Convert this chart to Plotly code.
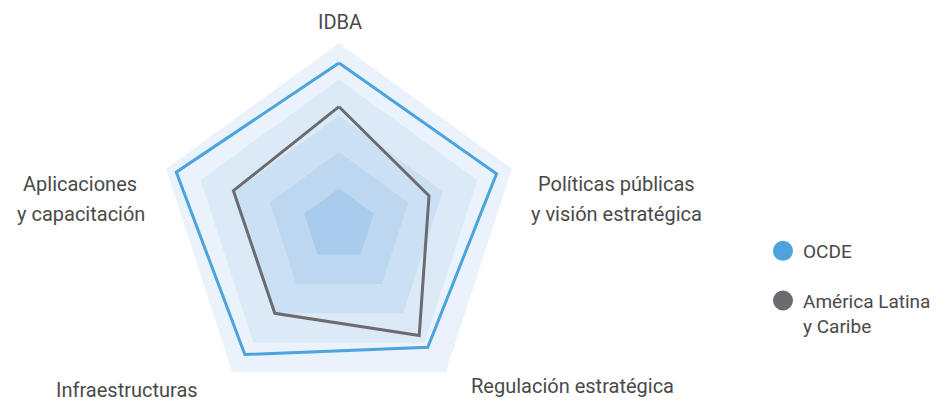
import plotly.graph_objects as go

# ---- data ----
categories = ["IDBA", "Políticas públicas y visión estratégica", "Regulación estratégica",
              "Infraestructuras", "Aplicaciones y capacitación"]
label_lines = [["IDBA"], ["Políticas públicas", "y visión estratégica"], ["Regulación estratégica"],
               ["Infraestructuras"], ["Aplicaciones", "y capacitación"]]
ocde = [89, 91, 83, 88, 94]
alc = [65, 52, 75, 60, 61]
series_names = ["OCDE", "América Latina<br>y Caribe"]
band_levels = [100, 80, 60, 40, 20]

# ---- styles ----
band_colors = ["#EAF3FB", "#DCEAF7", "#CBE0F3", "#BCD7EF", "#A9CBEC"]
blue = "#4DA3DD"
gray = "#6B6B70"
text_color = "#4A4A4A"
font_family = "Roboto, 'Noto Sans', sans-serif"

OFF = 8  # browser body margin
W, H = 944, 404

def fx(px):
    return (px - OFF) / W

def fy(py):
    return 1 - (py - OFF) / H

fig = go.Figure()
theta_closed = categories + [categories[0]]

for lvl, col in zip(band_levels, band_colors):
    fig.add_trace(go.Scatterpolar(
        r=[lvl] * (len(categories) + 1), theta=theta_closed,
        mode="lines", fill="toself", fillcolor=col,
        line=dict(width=0, color=col), showlegend=False, hoverinfo="skip"))

fig.add_trace(go.Scatterpolar(
    r=ocde + [ocde[0]], theta=theta_closed, mode="lines",
    line=dict(color=blue, width=3), showlegend=False, name="OCDE"))
fig.add_trace(go.Scatterpolar(
    r=alc + [alc[0]], theta=theta_closed, mode="lines",
    line=dict(color=gray, width=3), showlegend=False, name="América Latina y Caribe"))

for nm, col, grp in [(series_names[0], blue, "a"), (series_names[1], gray, "b")]:
    fig.add_trace(go.Scatterpolar(
        r=[None], theta=[categories[0]], mode="markers", name=nm,
        legendgroup=grp,
        marker=dict(color=col, size=16, symbol="circle", line=dict(color=col, width=4)),
        showlegend=True))

R = 182
cx, cy = 339, 225  # page pixels
fig.update_layout(
    width=W, height=H,
    margin=dict(l=0, r=0, t=0, b=0),
    paper_bgcolor="white",
    font=dict(family=font_family, color=text_color),
    polar=dict(
        domain=dict(x=[fx(cx - R), fx(cx + R)], y=[fy(cy + R), fy(cy - R)]),
        bgcolor="rgba(0,0,0,0)",
        gridshape="linear",
        radialaxis=dict(visible=False, range=[0, 100]),
        angularaxis=dict(rotation=90, direction="clockwise", showline=False,
                         showgrid=False, showticklabels=False, ticks=""),
    ),
    legend=dict(x=fx(763), y=fy(232), xanchor="left", yanchor="top",
                font=dict(size=19, color=text_color, family=font_family),
                traceorder="grouped", tracegroupgap=22, valign="top",
                bgcolor="rgba(0,0,0,0)"),
    showlegend=True,
)

# axis labels (page-pixel centres of each text line)
label_pos = [[(340, 22)], [(616, 184), (616, 213.5)], [(572, 385.5)],
             [(126.5, 390)], [(80, 184), (81, 213.5)]]
for lines, poss in zip(label_lines, label_pos):
    for txt, (px, py) in zip(lines, poss):
        fig.add_annotation(text=txt, x=fx(px), y=fy(py), xref="paper", yref="paper",
                           xanchor="center", yanchor="middle", showarrow=False,
                           font=dict(size=20, color=text_color, family=font_family))

fig.write_html("out.html")
